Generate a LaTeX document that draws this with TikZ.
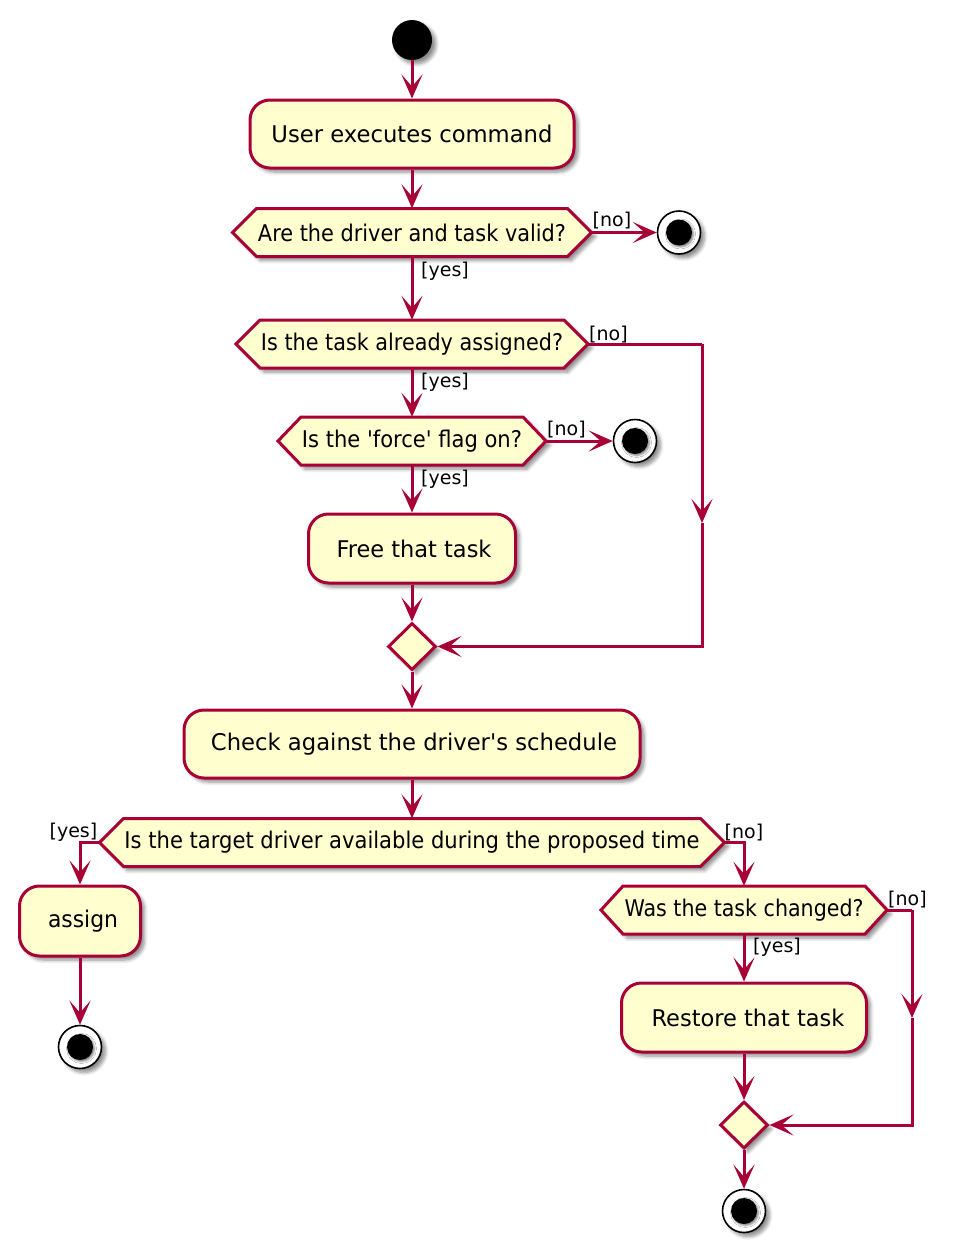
\documentclass[tikz,border=0pt]{standalone}
\usepackage{fontspec}
\usepackage{graphicx}
\setmainfont{DejaVu Sans}[Ligatures=TeXOff]
\usetikzlibrary{arrows.meta,shadows.blur,shapes.geometric}
\definecolor{pborder}{HTML}{A80036}
\definecolor{pfill}{HTML}{FEFECE}
\tikzset{
  shd/.style={blur shadow={shadow xshift=4pt, shadow yshift=-4pt, shadow opacity=45, shadow blur radius=3.5pt, shadow blur steps=6}},
  dotshd/.style={blur shadow={shadow xshift=1.5pt, shadow yshift=-1.5pt, shadow opacity=50, shadow blur radius=2pt, shadow blur steps=4}},
  line/.style={draw=pborder, line width=3pt},
  arr/.style={line, -{Stealth[length=24pt,width=21pt,inset=12pt]}},
  act/.style={rectangle, rounded corners=20pt, draw=pborder, fill=pfill, line width=3pt,
    minimum height=68pt, inner sep=0pt, font=\fontsize{23}{27}\selectfont, shd},
  dec/.style={rectangle, inner sep=0pt, minimum height=48pt, font=\fontsize{23}{27}\selectfont},
  hexdraw/.style={draw=pborder, fill=pfill, line width=3pt, line join=miter, shd},
  merge/.style={diamond, aspect=1, draw=pborder, fill=pfill, line width=3pt, minimum width=48pt, minimum height=47pt, inner sep=0pt, shd},
  startc/.style={circle, fill=black, minimum size=40pt, inner sep=0pt, shd},
  endc/.style={circle, draw=black, fill=white, line width=1.6pt, minimum size=43pt, inner sep=0pt, shd},
  enddot/.style={circle, fill=black, minimum size=26pt, inner sep=0pt, dotshd},
  lab/.style={font=\fontsize{19}{22}\selectfont, inner sep=0pt, text=black},
}
% fit text to a given width, keeping its height
\newcommand\fitw[2]{\resizebox{#1pt}{\height}{#2}}
% hexagon decision: name, x, y, corner width, slant, text width, text
\newcommand\decnode[7]{%
  \path[hexdraw] ({#2-#4/2-#5},#3) -- ({#2-#4/2},{#3-24}) -- ({#2+#4/2},{#3-24}) -- ({#2+#4/2+#5},#3) -- ({#2+#4/2},{#3+24}) -- ({#2-#4/2},{#3+24}) -- cycle;
  \node[dec, minimum width=#4pt] (#1) at (#2,#3) {\fitw{#6}{#7}};
  \coordinate (#1-w) at ({#2-#4/2-#5},#3);
  \coordinate (#1-e) at ({#2+#4/2+#5},#3);}
\begin{document}
\begin{tikzpicture}[x=1pt,y=-1pt]
\useasboundingbox (0,0) rectangle (962,1253);
% nodes
\node[startc] (s) at (412,40) {};
\node[act, minimum width=324pt] (a1) at (412,134) {\fitw{281}{User executes command}};
\decnode{d1}{412}{232.5}{311}{24}{308}{Are the driver and task valid?}
\node[endc] (e1) at (679,232.5) {};
\node[enddot] (e1d) at (e1) {};
\decnode{d2}{412}{344}{304}{24}{302}{Is the task already assigned?}
\decnode{d3}{412}{441}{222}{23}{220}{Is the 'force' flag on?}
\node[endc] (e2) at (635,441) {};
\node[enddot] (e2d) at (e2) {};
\node[act, minimum width=207pt, minimum height=69pt] (a2) at (412,548.5) {\hspace{4pt}\fitw{155}{Free that task}};
\node[merge] (m1) at (412,646.5) {};
\node[act, minimum width=456pt] (a3) at (412,744) {\hspace{4pt}\fitw{406}{Check against the driver's schedule}};
\decnode{d4}{412}{842.5}{577}{24}{575}{Is the target driver available during the proposed time}
\node[act, minimum width=121pt, minimum height=70pt] (a4) at (80,921) {\hspace{6pt}\fitw{70}{assign}};
\node[endc] (e3) at (80,1047) {};
\node[enddot] (e3d) at (e3) {};
\decnode{d5}{744}{910}{242}{22}{239}{Was the task changed?}
\node[act, minimum width=245pt, minimum height=69pt] (a5) at (744,1017.5) {\hspace{8pt}\fitw{193}{Restore that task}};
\node[merge] (m2) at (744,1125) {};
\node[endc] (e4) at (744,1211) {};
\node[enddot] (e4d) at (e4) {};
% free-end coordinates
\coordinate (k2a) at (702,344);
\coordinate (k2m) at (702,523);
\coordinate (k2b) at (702,646.5);
\coordinate (k5a) at (912,910);
\coordinate (k5m) at (912,1018);
\coordinate (k5b) at (912,1125);
% connectors
\draw[arr] (s) -- (a1);
\draw[arr] (a1) -- (d1);
\draw[arr] (d1-e) -- (e1);
\draw[arr] (d1) -- (d2);
\draw[line] (d2-e) -- (k2a);
\draw[arr] (k2a) -- (k2m);
\draw[arr] (k2m) -- (k2b) -- (m1.east);
\draw[arr] (d2) -- (d3);
\draw[arr] (d3-e) -- (e2);
\draw[arr] (d3) -- (a2);
\draw[arr] (a2) -- (m1);
\draw[arr] (m1) -- (a3);
\draw[arr] (a3) -- (d4);
\draw[arr] (d4-w) -| (a4.north);
\draw[arr] (a4) -- (e3);
\draw[arr] (d4-e) -| (d5.north);
\draw[line] (d5-e) -- (k5a);
\draw[arr] (k5a) -- (k5m);
\draw[arr] (k5m) -- (k5b) -- (m2.east);
\draw[arr] (d5) -- (a5);
\draw[arr] (a5) -- (m2);
\draw[arr] (m2) -- (e4);
% labels
\node[lab, anchor=south west] (l1) at ([xshift=1pt,yshift=3pt]d1-e) {[no]};
\node[lab, anchor=north west] (l2) at ([xshift=9pt,yshift=-5pt]d1.south) {[yes]};
\node[lab, anchor=south west] (l3) at ([xshift=1pt,yshift=1pt]d2-e) {[no]};
\node[lab, anchor=north west] (l4) at ([xshift=9pt,yshift=-5pt]d2.south) {[yes]};
\node[lab, anchor=south west] (l5) at ([xshift=1pt,yshift=3pt]d3-e) {[no]};
\node[lab, anchor=north west] (l6) at ([xshift=9pt,yshift=-5pt]d3.south) {[yes]};
\node[lab, anchor=south east] (l7) at ([xshift=-2pt,yshift=1pt]d4-w) {[yes]};
\node[lab, anchor=south west] (l8) at ([xshift=0pt,yshift=1pt]d4-e) {[no]};
\node[lab, anchor=south west] (l9) at ([xshift=1pt,yshift=2pt]d5-e) {[no]};
\node[lab, anchor=north west] (l10) at ([xshift=9pt,yshift=-4pt]d5.south) {[yes]};
\end{tikzpicture}
\end{document}
